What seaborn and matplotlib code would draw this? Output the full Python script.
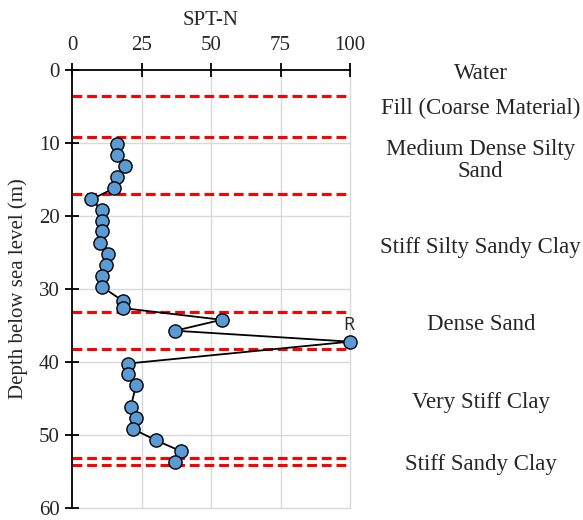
import matplotlib
matplotlib.use("Agg")
import matplotlib.pyplot as plt
import seaborn as sns
import pandas as pd

# SPT blow counts along the borehole
spt_n = [16.2, 16.2, 19.2, 16.2, 15.1, 6.9, 10.9, 10.9, 10.9, 10.0, 13.1, 12.1,
         10.9, 10.9, 18.2, 18.2, 53.8, 37.1, 100.0, 20.0, 20.0, 23.0, 21.1, 23.0,
         22.1, 30.1, 39.1, 37.1]
depth_m = [10.1, 11.6, 13.1, 14.7, 16.2, 17.7, 19.2, 20.6, 22.1, 23.7, 25.2, 26.7,
           28.2, 29.7, 31.6, 32.6, 34.2, 35.7, 37.2, 40.2, 41.7, 43.2, 46.2, 47.7,
           49.2, 50.7, 52.2, 53.7]

# Layer boundaries (m) and layer descriptions with label depths
boundaries = [3.6, 9.1, 17.0, 33.2, 38.2, 53.2, 54.1]
layer_names = ["Water", "Fill (Coarse Material)", "Medium Dense Silty\nSand",
               "Stiff Silty Sandy Clay", "Dense Sand", "Very Stiff Clay",
               "Stiff Sandy Clay"]
layer_label_depth = [0.4, 5.3, 12.4, 24.3, 34.8, 45.5, 54.1]

x_ticks = [0, 25, 50, 75, 100]
y_ticks = [0, 10, 20, 30, 40, 50, 60]

sns.set_theme(style="white")
plt.rcParams["font.family"] = ["Liberation Serif", "DejaVu Serif"]

fig = plt.figure(figsize=(5.83, 5.20), dpi=100)
ax = fig.add_axes([0.1235, 0.023, 0.477, 0.842])

df = pd.DataFrame({"N": spt_n, "Depth": depth_m})

ax.set_xlim(0, 100)
ax.set_ylim(60, 0)

# light grid
for xv in x_ticks[1:]:
    ax.plot([xv, xv], [0, 60], color="#d9d9d9", lw=1.0, zorder=0, clip_on=False)
for yv in y_ticks[1:]:
    ax.plot([0, 100], [yv, yv], color="#d9d9d9", lw=1.0, zorder=0, clip_on=False)

# layer boundaries
for b in boundaries:
    ax.plot([0, 100], [b, b], color="#ff0000", lw=2.2, ls=(0, (3.2, 1.6)),
            zorder=2, clip_on=False)

sns.lineplot(data=df, x="N", y="Depth", sort=False, estimator=None, ax=ax,
             color="black", lw=1.3, marker="o", markersize=9.5,
             markerfacecolor="#5b9bd5", markeredgecolor="black",
             markeredgewidth=1.0, zorder=3, clip_on=False)

ax.text(spt_n[18] - 0.5, depth_m[18] - 1.0, "R", fontsize=13,
        family=["Open Sans", "DejaVu Sans"], ha="center", va="bottom",
        color="#222222")

ax.xaxis.set_ticks_position("top")
ax.xaxis.set_label_position("top")
ax.set_xticks(x_ticks)
ax.set_yticks(y_ticks)
ax.tick_params(axis="both", direction="inout", length=10, width=1.3,
               color="black", labelsize=15, pad=3)
ax.tick_params(axis="x", top=True, bottom=False, pad=6)
ax.tick_params(axis="y", left=True, pad=4)
ax.set_xlabel("SPT-N", fontsize=15, labelpad=8)
ax.set_ylabel("Depth below sea level (m)", fontsize=15, labelpad=8)

for side in ["right", "bottom"]:
    ax.spines[side].set_visible(False)
for side in ["top", "left"]:
    ax.spines[side].set_color("black")
    ax.spines[side].set_linewidth(1.3)
ax.grid(False)

for name, d in zip(layer_names, layer_label_depth):
    ax.text(1.47, d, name, transform=ax.get_yaxis_transform(), fontsize=16.5,
            ha="center", va="center", linespacing=1.1, clip_on=False)

fig.savefig("out.png", dpi=100)
